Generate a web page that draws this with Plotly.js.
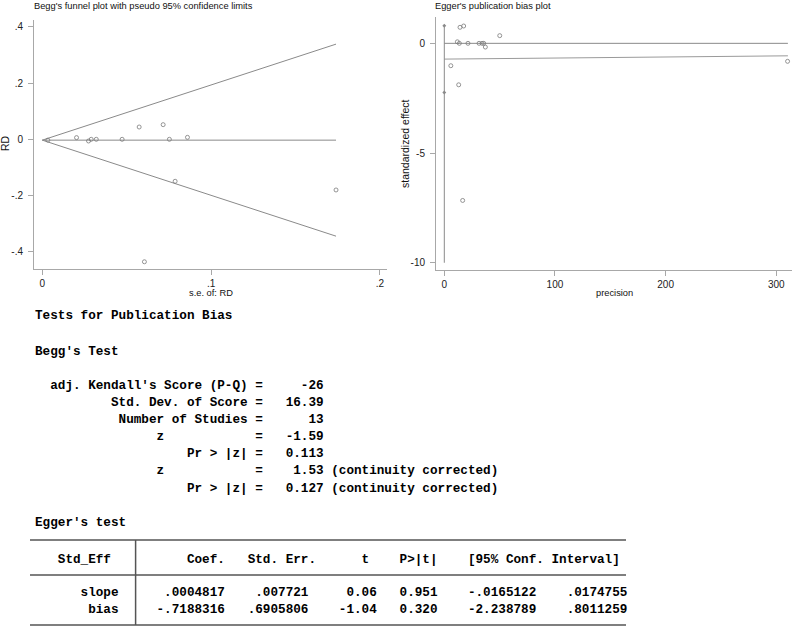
<!DOCTYPE html>
<html>
<head>
<meta charset="utf-8">
<script src="https://cdn.plot.ly/plotly-3.0.1.min.js"></script>
<style>
html,body{margin:0;padding:0;background:#fff;}
#chart{width:796px;height:627px;}
</style>
</head>
<body>
<div id="chart"></div>
<script>
// ---------- Data: Begg's funnel plot ----------
const beggSE = [0.0033, 0.0203, 0.0274, 0.0290, 0.0320, 0.0473, 0.0574, 0.0605, 0.0716, 0.0753, 0.0787, 0.0860, 0.1740];
const beggRD = [-0.003, 0.006, -0.006, 0.000, 0.000, 0.000, 0.0437, -0.435, 0.052, 0.000, -0.149, 0.007, -0.180];
const pooledRD = -0.003;
const funnelSE = [0, 0.174];
const zCrit = 1.96;
const beggXTicks = [0, 0.1, 0.2];
const beggXTickText = ['0', '.1', '.2'];
const beggYTicks = [-0.4, -0.2, 0, 0.2, 0.4];
const beggYTickText = ['-.4', '-.2', '0', '.2', '.4'];

// ---------- Data: Egger's plot ----------
const eggerPrec = [310.2, 50.1, 37.1, 35.6, 34.1, 31.4, 21.4, 17.5, 16.6, 14.2, 13.6, 13.0, 11.8, 5.9];
const eggerStd = [-0.82, 0.35, -0.17, 0.00, 0.00, 0.00, 0.00, 0.79, -7.16, 0.73, 0.00, -1.89, 0.07, -1.02];
const eggerSlope = 0.0004817;
const eggerBias = -0.7188316;
const eggerCI = [0.8011259, -2.238789];
const eggerFitX = [0, 310.5];
const eggerAxisLineY = [0.85, -10];
const eggerXTicks = [0, 100, 200, 300];
const eggerYTicks = [-10, -5, 0];

// ---------- Text output ----------
const beggText = [
  "Tests for Publication Bias",
  "Begg's Test",
  "  adj. Kendall's Score (P-Q) =     -26",
  "          Std. Dev. of Score =   16.39",
  "           Number of Studies =      13",
  "                z            =   -1.59",
  "                    Pr > |z| =   0.113",
  "                z            =    1.53 (continuity corrected)",
  "                    Pr > |z| =   0.127 (continuity corrected)"
];
const beggTextY = [315.7, 351, 385.3, 402.3, 419.3, 436, 453.3, 470.7, 488];
const eggerTitle = "Egger's test";
const tableHeader = "   Std_Eff          Coef.   Std. Err.      t    P>|t|    [95% Conf. Interval]";
const tableRows = [
  "      slope      .0004817    .007721     0.06   0.951    -.0165122    .0174755",
  "       bias     -.7188316   .6905806    -1.04   0.320    -2.238789    .8011259"
];

// ---------- Helpers ----------
const W = 796, H = 627;
const px = v => v / W;
const py = v => 1 - v / H;
const nb = s => s.replace(/ /g, '\u00a0');
const gray = '#8a8a8a';
const axisGray = '#a8a8a8';
const sans = 'Liberation Sans, Arial, sans-serif';
const mono = 'Liberation Mono, Courier New, monospace';

const traces = [];
// Funnel limits and pooled line
traces.push({x: funnelSE, y: funnelSE.map(s => pooledRD + zCrit * s), mode: 'lines', line: {color: gray, width: 1}, xaxis: 'x', yaxis: 'y', hoverinfo: 'skip'});
traces.push({x: funnelSE, y: funnelSE.map(s => pooledRD - zCrit * s), mode: 'lines', line: {color: gray, width: 1}, xaxis: 'x', yaxis: 'y', hoverinfo: 'skip'});
traces.push({x: funnelSE, y: funnelSE.map(() => pooledRD), mode: 'lines', line: {color: gray, width: 1}, xaxis: 'x', yaxis: 'y', hoverinfo: 'skip'});
traces.push({x: beggSE, y: beggRD, mode: 'markers', marker: {symbol: 'circle-open', size: 4, color: '#7a7a7a', line: {width: 0.8}}, xaxis: 'x', yaxis: 'y'});

// Egger plot
traces.push({x: eggerFitX, y: [0, 0], mode: 'lines', line: {color: gray, width: 1}, xaxis: 'x2', yaxis: 'y2', hoverinfo: 'skip'});
traces.push({x: eggerFitX, y: eggerFitX.map(p => eggerBias + eggerSlope * p), mode: 'lines', line: {color: '#9a9a9a', width: 1}, xaxis: 'x2', yaxis: 'y2', hoverinfo: 'skip'});
traces.push({x: [0, 0], y: eggerAxisLineY, mode: 'lines', line: {color: gray, width: 1}, xaxis: 'x2', yaxis: 'y2', hoverinfo: 'skip'});
traces.push({x: [0, 0], y: eggerCI, mode: 'markers', marker: {symbol: 'diamond', size: 3, color: '#8a8a8a'}, xaxis: 'x2', yaxis: 'y2'});
traces.push({x: eggerPrec, y: eggerStd, mode: 'markers', marker: {symbol: 'circle-open', size: 4, color: '#7a7a7a', line: {width: 0.8}}, xaxis: 'x2', yaxis: 'y2'});

const axisCommon = {
  showgrid: false, zeroline: false, showline: true, linecolor: axisGray, linewidth: 1,
  ticks: 'outside', ticklen: 5, tickcolor: axisGray, tickwidth: 1,
  tickfont: {family: sans, size: 10, color: '#222'}, fixedrange: true
};

const annotations = [];
function ann(text, x, y, o) {
  annotations.push(Object.assign({
    text: text, x: px(x), y: py(y), xref: 'paper', yref: 'paper',
    showarrow: false, xanchor: 'left', yanchor: 'middle',
    font: {family: sans, size: 10, color: '#111'}
  }, o || {}));
}
// Plot titles and axis titles
ann("Begg's funnel plot with pseudo 95% confidence limits", 32, 5.5, {font: {family: sans, size: 9.3, color: '#111'}});
ann("Egger's publication bias plot", 433, 5.5, {font: {family: sans, size: 9.3, color: '#111'}});
ann("RD", 5, 143, {xanchor: 'center', textangle: -90, font: {family: sans, size: 10.5, color: '#111'}});
ann("standardized effect", 405, 143, {xanchor: 'center', textangle: -90, font: {family: sans, size: 10.5, color: '#111'}});
ann("s.e. of: RD", 211, 293, {xanchor: 'center', font: {family: sans, size: 9.3, color: '#111'}});
ann("precision", 614, 293, {xanchor: 'center', font: {family: sans, size: 9.3, color: '#111'}});

// Monospaced text output
const monoFont = {family: mono, size: 12.66, color: '#000', weight: 'bold'};
beggText.forEach((t, i) => ann(nb(t), 33, beggTextY[i], {font: monoFont}));
ann(nb(eggerTitle), 33, 522, {font: monoFont});
ann(nb(tableHeader), 33, 559, {font: monoFont});
ann(nb(tableRows[0]), 33, 592, {font: monoFont});
ann(nb(tableRows[1]), 33, 609, {font: monoFont});

const ruleColor = '#555';
const shapes = [
  {type: 'line', xref: 'paper', yref: 'paper', x0: px(30), x1: px(626), y0: py(540), y1: py(540), line: {color: ruleColor, width: 1.5}},
  {type: 'line', xref: 'paper', yref: 'paper', x0: px(30), x1: px(626), y0: py(575), y1: py(575), line: {color: ruleColor, width: 1.5}},
  {type: 'line', xref: 'paper', yref: 'paper', x0: px(30), x1: px(626), y0: py(625), y1: py(625), line: {color: ruleColor, width: 1.5}},
  {type: 'line', xref: 'paper', yref: 'paper', x0: px(135.6), x1: px(135.6), y0: py(540), y1: py(625), line: {color: ruleColor, width: 1.5}}
];

const layout = {
  width: W, height: H,
  margin: {l: 0, r: 0, t: 0, b: 0, pad: 0},
  paper_bgcolor: '#fff', plot_bgcolor: '#fff',
  showlegend: false,
  xaxis: Object.assign({}, axisCommon, {domain: [px(34), px(387)], range: [-0.0049, 0.2042], tickvals: beggXTicks, ticktext: beggXTickText, anchor: 'y'}),
  yaxis: Object.assign({}, axisCommon, {domain: [py(269), py(20)], range: [-0.4607, 0.4238], tickvals: beggYTicks, ticktext: beggYTickText, anchor: 'x', ticklabelstandoff: 3}),
  xaxis2: Object.assign({}, axisCommon, {domain: [px(436), px(792)], range: [-7.5, 314.2], tickvals: eggerXTicks, ticktext: eggerXTicks.map(String), anchor: 'y2'}),
  yaxis2: Object.assign({}, axisCommon, {domain: [py(270), py(17)], range: [-10.33, 1.2], tickvals: eggerYTicks, ticktext: eggerYTicks.map(String), anchor: 'x2', ticklabelstandoff: 3}),
  annotations: annotations,
  shapes: shapes
};

Plotly.newPlot('chart', traces, layout, {staticPlot: true, displayModeBar: false});
</script>
</body>
</html>
